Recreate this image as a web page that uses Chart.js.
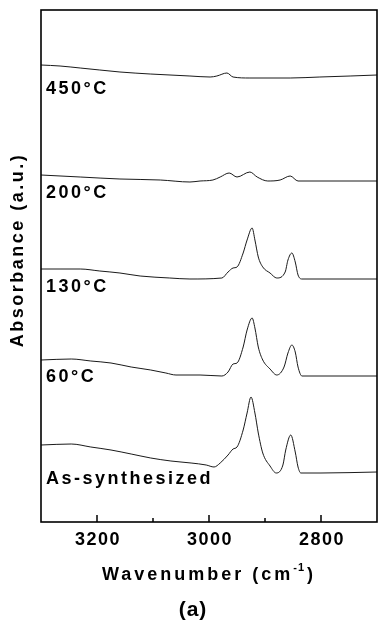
<!DOCTYPE html>
<html>
<head>
<meta charset="utf-8">
<script src="https://cdn.jsdelivr.net/npm/chart.js@4.4.0/dist/chart.umd.min.js"></script>
<style>
  html, body { margin: 0; padding: 0; background: #fff; }
  #wrap { width: 379px; height: 626px; }
</style>
</head>
<body>
<div id="wrap"><canvas id="ir_a"></canvas></div>
<script>
// wavenumber (cm-1) / absorbance (a.u., stacked offsets)
const wn450 = [3300, 3266, 3230, 3195, 3159, 3105, 3034, 2998, 2986, 2968, 2957, 2927, 2855, 2802, 2748, 2700];
const ab450 = [4.57, 4.56, 4.54, 4.52, 4.50, 4.48, 4.46, 4.45, 4.46, 4.49, 4.45, 4.44, 4.44, 4.45, 4.46, 4.47];

const wn200 = [3300, 3230, 3159, 3087, 3034, 3016, 2993, 2980, 2964, 2950, 2927, 2914, 2895, 2873, 2855, 2841, 2800, 2700];
const ab200 = [3.47, 3.45, 3.43, 3.42, 3.40, 3.41, 3.42, 3.45, 3.49, 3.45, 3.50, 3.45, 3.41, 3.42, 3.46, 3.41, 3.41, 3.41];

const wn130 = [3300, 3266, 3230, 3195, 3159, 3123, 3070, 3034, 2977, 2966, 2957, 2950, 2939, 2932, 2923, 2918, 2912, 2904, 2891, 2879, 2864, 2859, 2852, 2846, 2841, 2834, 2700];
const ab130 = [2.53, 2.53, 2.53, 2.51, 2.49, 2.46, 2.44, 2.43, 2.44, 2.50, 2.54, 2.55, 2.69, 2.82, 2.94, 2.82, 2.65, 2.55, 2.49, 2.44, 2.50, 2.62, 2.69, 2.60, 2.47, 2.43, 2.43];

const wn60 = [3300, 3246, 3211, 3175, 3139, 3104, 3077, 3059, 3016, 2977, 2966, 2957, 2950, 2939, 2932, 2923, 2918, 2912, 2904, 2891, 2879, 2866, 2859, 2852, 2846, 2841, 2834, 2700];
const ab60 = [1.62, 1.63, 1.61, 1.59, 1.55, 1.52, 1.49, 1.47, 1.47, 1.46, 1.50, 1.58, 1.59, 1.75, 1.92, 2.04, 1.94, 1.75, 1.62, 1.53, 1.47, 1.55, 1.69, 1.77, 1.70, 1.55, 1.46, 1.46];

const wnAs = [3300, 3246, 3211, 3175, 3139, 3104, 3068, 3032, 3005, 2991, 2980, 2966, 2957, 2950, 2939, 2932, 2925, 2918, 2912, 2904, 2891, 2880, 2868, 2863, 2854, 2846, 2841, 2836, 2800, 2700];
const abAs = [0.77, 0.78, 0.75, 0.72, 0.68, 0.64, 0.61, 0.59, 0.57, 0.55, 0.59, 0.67, 0.73, 0.75, 0.92, 1.09, 1.25, 1.09, 0.89, 0.69, 0.56, 0.49, 0.57, 0.72, 0.87, 0.70, 0.55, 0.49, 0.49, 0.50];

const seriesNames = ['450°C', '200°C', '130°C', '60°C', 'As-synthesized'];
const labelLevels = [4.33, 3.29, 2.35, 1.45, 0.43];
const majorTicks = [3200, 3000, 2800];
const minorTicks = [3100, 2900];

const FONT = '"Liberation Sans", Arial, sans-serif';

function toPoints(wn, ab) {
  return wn.map((w, i) => ({ x: w, y: ab[i] }));
}

function trace(label, wn, ab) {
  return {
    label: label,
    data: toPoints(wn, ab),
    borderColor: '#1a1a1a',
    borderWidth: 1,
    pointRadius: 0,
    fill: false,
    cubicInterpolationMode: 'monotone'
  };
}

// frame, inward ticks and all the text
const decorations = {
  id: 'decorations',
  beforeDraw(chart) {
    const ctx = chart.ctx;
    ctx.save();
    ctx.fillStyle = '#fff';
    ctx.fillRect(0, 0, chart.width, chart.height);
    ctx.restore();
  },
  afterDraw(chart) {
    const { ctx, chartArea: a, scales: { x, y } } = chart;
    ctx.save();
    ctx.strokeStyle = '#000';
    ctx.lineWidth = 1.6;
    ctx.strokeRect(a.left, a.top, a.right - a.left, a.bottom - a.top);

    ctx.lineWidth = 1.5;
    ctx.beginPath();
    majorTicks.forEach(v => {
      const px = x.getPixelForValue(v);
      ctx.moveTo(px, a.bottom);
      ctx.lineTo(px, a.bottom - 7);
    });
    minorTicks.forEach(v => {
      const px = x.getPixelForValue(v);
      ctx.moveTo(px, a.bottom);
      ctx.lineTo(px, a.bottom - 4);
    });
    ctx.stroke();

    ctx.fillStyle = '#000';
    ctx.textBaseline = 'middle';

    // tick labels
    ctx.font = 'bold 18px ' + FONT;
    ctx.letterSpacing = '1.5px';
    ctx.textAlign = 'center';
    majorTicks.forEach(v => ctx.fillText(String(v), x.getPixelForValue(v) + 1, 540));

    // curve labels
    ctx.font = 'bold 18px ' + FONT;
    ctx.letterSpacing = '2.5px';
    ctx.textAlign = 'left';
    seriesNames.forEach((n, i) => ctx.fillText(n, a.left + 5, y.getPixelForValue(labelLevels[i])));

    // x title with superscript
    ctx.textBaseline = 'alphabetic';
    const mainFont = 'bold 18px ' + FONT;
    const supFont = 'bold 11px ' + FONT;
    ctx.font = mainFont;
    ctx.letterSpacing = '3px';
    const p1 = 'Wavenumber (cm', p3 = ')';
    const w1 = ctx.measureText(p1).width;
    const w3 = ctx.measureText(p3).width;
    ctx.font = supFont;
    ctx.letterSpacing = '1px';
    const w2 = ctx.measureText('-1').width + 2;
    const cx = (a.left + a.right) / 2;
    const tx = cx - (w1 + w2 + w3) / 2;
    ctx.textAlign = 'left';
    ctx.font = mainFont;
    ctx.letterSpacing = '3px';
    ctx.fillText(p1, tx, 580);
    ctx.font = supFont;
    ctx.letterSpacing = '1px';
    ctx.fillText('-1', tx + w1, 571);
    ctx.font = mainFont;
    ctx.letterSpacing = '3px';
    ctx.fillText(p3, tx + w1 + w2, 580);

    // y title
    ctx.save();
    ctx.translate(18, 250);
    ctx.rotate(-Math.PI / 2);
    ctx.textAlign = 'center';
    ctx.textBaseline = 'middle';
    ctx.font = 'bold 18px ' + FONT;
    ctx.letterSpacing = '2.5px';
    ctx.fillText('Absorbance (a.u.)', 0, 0);
    ctx.restore();

    // panel tag
    ctx.textAlign = 'center';
    ctx.textBaseline = 'middle';
    ctx.font = 'bold 21px ' + FONT;
    ctx.letterSpacing = '1px';
    ctx.fillText('(a)', 193, 610);
    ctx.restore();
  }
};

const ctx = document.getElementById('ir_a').getContext('2d');
new Chart(ctx, {
  type: 'line',
  data: {
    datasets: [
      trace(seriesNames[0], wn450, ab450),
      trace(seriesNames[1], wn200, ab200),
      trace(seriesNames[2], wn130, ab130),
      trace(seriesNames[3], wn60, ab60),
      trace(seriesNames[4], wnAs, abAs)
    ]
  },
  options: {
    responsive: true,
    maintainAspectRatio: false,
    animation: false,
    devicePixelRatio: 1,
    layout: { padding: { left: 41, top: 10, right: 2, bottom: 104 } },
    scales: {
      x: { type: 'linear', reverse: true, min: 2700, max: 3300, display: false },
      y: { type: 'linear', min: 0, max: 5.12, display: false }
    },
    plugins: {
      legend: { display: false },
      tooltip: { enabled: false }
    }
  },
  plugins: [decorations]
});
</script>
</body>
</html>
